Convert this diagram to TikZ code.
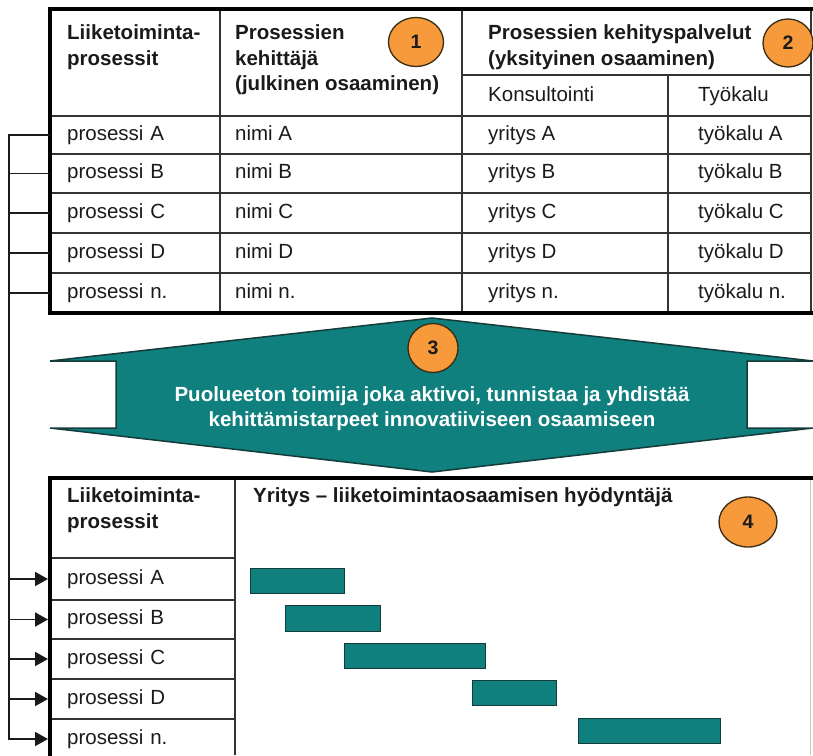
\documentclass[tikz,border=0pt]{standalone}
\usepackage{fontspec}
\setmainfont{Liberation Sans}
\usetikzlibrary{arrows.meta,shapes.geometric}
\definecolor{tealfill}{HTML}{0F807E}
\definecolor{tealline}{HTML}{153B3A}
\definecolor{badgefill}{HTML}{F69A3C}
\definecolor{badgeline}{HTML}{3A2A12}
\definecolor{ink}{HTML}{1A1A1A}
\definecolor{gridline}{HTML}{333333}

\begin{document}
\begin{tikzpicture}[x=1pt,y=-1pt,
  every node/.style={font=\fontsize{20.5}{25}\selectfont, text=ink, inner sep=0pt},
  hdr/.style={anchor=north west, align=left, font=\fontsize{20.5}{25.5}\selectfont\bfseries},
  celltext/.style={anchor=west, text height=15pt, text depth=4.5pt},
  rowcell/.style={anchor=west, text height=15pt, text depth=4.5pt,
    inner xsep=17pt, align=left, minimum height=38pt},
  thin/.style={draw=gridline, line width=1.5pt},
  thick/.style={draw=black, line width=4.5pt, line join=miter},
  conn/.style={draw=ink, line width=1.8pt},
  bar/.style={rectangle, anchor=north west, fill=tealfill, draw=tealline, line width=1.3pt},
  badge/.style={ellipse, fill=badgefill, draw=badgeline, line width=1.3pt,
    font=\fontsize{19.5}{19.5}\selectfont\bfseries}
]
\useasboundingbox (0,0) rectangle (813,755);

% ---------- upper table: grid ----------
\draw[thin] (220,9) -- (220,313);
\draw[thin] (462,9) -- (462,313);
\draw[thin] (668,75) -- (668,313);
\draw[thin] (462,75) -- (811,75);
\foreach \y in {116,154,193,233,273} \draw[thin] (50,\y) -- (811,\y);
\draw[thin] (811,9) -- (811,313);
\draw[thick] (813,9) -- (50,9) -- (50,313) -- (813,313);

% ---------- upper table: headers ----------
\node[hdr] (h1) at (67,24.8) {Liiketoiminta-\\prosessit};
\node[hdr] (h2) at (235,24.8) {Prosessien\\kehittäjä\\(julkinen osaaminen)};
\node[hdr] (h3) at (488,24.8) {Prosessien kehityspalvelut\\(yksityinen osaaminen)};
\node[celltext] (s1) at (488,96) {Konsultointi};
\node[celltext] (s2) at (698,96) {Työkalu};

% ---------- upper table: rows ----------
\node[rowcell, text width=136pt] (tA) at (50,135) {prosessi A};
\node[rowcell, text width=136pt] (tB) at (50,173.5) {prosessi B};
\node[rowcell, text width=136pt] (tC) at (50,213) {prosessi C};
\node[rowcell, text width=136pt] (tD) at (50,253) {prosessi D};
\node[rowcell, text width=136pt] (tN) at (50,293) {prosessi n.};

\node[celltext] (nA) at (235,135) {nimi A};
\node[celltext] (nB) at (235,173.5) {nimi B};
\node[celltext] (nC) at (235,213) {nimi C};
\node[celltext] (nD) at (235,253) {nimi D};
\node[celltext] (nN) at (235,293) {nimi n.};

\node[celltext] (yA) at (488,135) {yritys A};
\node[celltext] (yB) at (488,173.5) {yritys B};
\node[celltext] (yC) at (488,213) {yritys C};
\node[celltext] (yD) at (488,253) {yritys D};
\node[celltext] (yN) at (488,293) {yritys n.};

\node[celltext] (kA) at (698,135) {työkalu A};
\node[celltext] (kB) at (698,173.5) {työkalu B};
\node[celltext] (kC) at (698,213) {työkalu C};
\node[celltext] (kD) at (698,253) {työkalu D};
\node[celltext] (kN) at (698,293) {työkalu n.};

% ---------- lower table: grid ----------
\draw[thin] (235,478) -- (235,755);
\foreach \y in {558,600,639,679,719} \draw[thin] (50,\y) -- (235,\y);
\draw[draw=gray!45, line width=1pt] (810,478) -- (810,755);
\draw[thick] (813,478) -- (50,478) -- (50,757);

% ---------- lower table: headers ----------
\node[hdr] (g1) at (67,487.5) {Liiketoiminta-\\prosessit};
\node[hdr] (g2) at (253,487.5) {Yritys -- liiketoimintaosaamisen hyödyntäjä};

% ---------- lower table: rows ----------
\node[rowcell, text width=151pt] (bA) at (50,579) {prosessi A};
\node[rowcell, text width=151pt] (bB) at (50,619.5) {prosessi B};
\node[rowcell, text width=151pt] (bC) at (50,659) {prosessi C};
\node[rowcell, text width=151pt] (bD) at (50,699) {prosessi D};
\node[rowcell, text width=151pt] (bN) at (50,739) {prosessi n.};

% ---------- schedule bars ----------
\node[bar, minimum width=94pt, minimum height=25pt] (gA) at (250,568) {};
\node[bar, minimum width=95pt, minimum height=26pt] (gB) at (285,605) {};
\node[bar, minimum width=141pt, minimum height=25pt] (gC) at (344,643) {};
\node[bar, minimum width=84pt, minimum height=25pt] (gD) at (472,680) {};
\node[bar, minimum width=142pt, minimum height=25pt] (gN) at (578,718) {};

% ---------- links from upper rows to lower rows ----------
\coordinate (bus) at (9,0);
\foreach \r in {A,B,C,D,N}
  \draw[conn, shorten >=2pt, -{Triangle[length=13pt,width=14pt]}]
    (t\r.west) -- (t\r.west -| bus) |- (b\r.west);

% ---------- double-headed arrow between the tables ----------
\draw[fill=tealfill, draw=tealline, line width=1.5pt, line join=miter]
  (432,318) -- (813,361) -- (747,361) -- (747,428) -- (813,428)
  -- (432,472) -- (50,428) -- (116,428) -- (116,361) -- (50,361) -- cycle;
\node[align=center, text=white, font=\fontsize{20.5}{25}\selectfont\bfseries] (mid)
  at (432,409) {Puolueeton toimija joka aktivoi, tunnistaa ja yhdistää\\kehittämistarpeet innovatiiviseen osaamiseen};

% ---------- numbered badges ----------
\node[badge, minimum width=55pt, minimum height=49pt] (c1) at (416,42) {1};
\node[badge, minimum width=50pt, minimum height=48pt] (c2) at (788,43) {2};
\node[badge, minimum width=50pt, minimum height=49pt] (c3) at (433,348) {3};
\node[badge, minimum width=58pt, minimum height=50pt] (c4) at (748,522) {4};
\end{tikzpicture}
\end{document}
